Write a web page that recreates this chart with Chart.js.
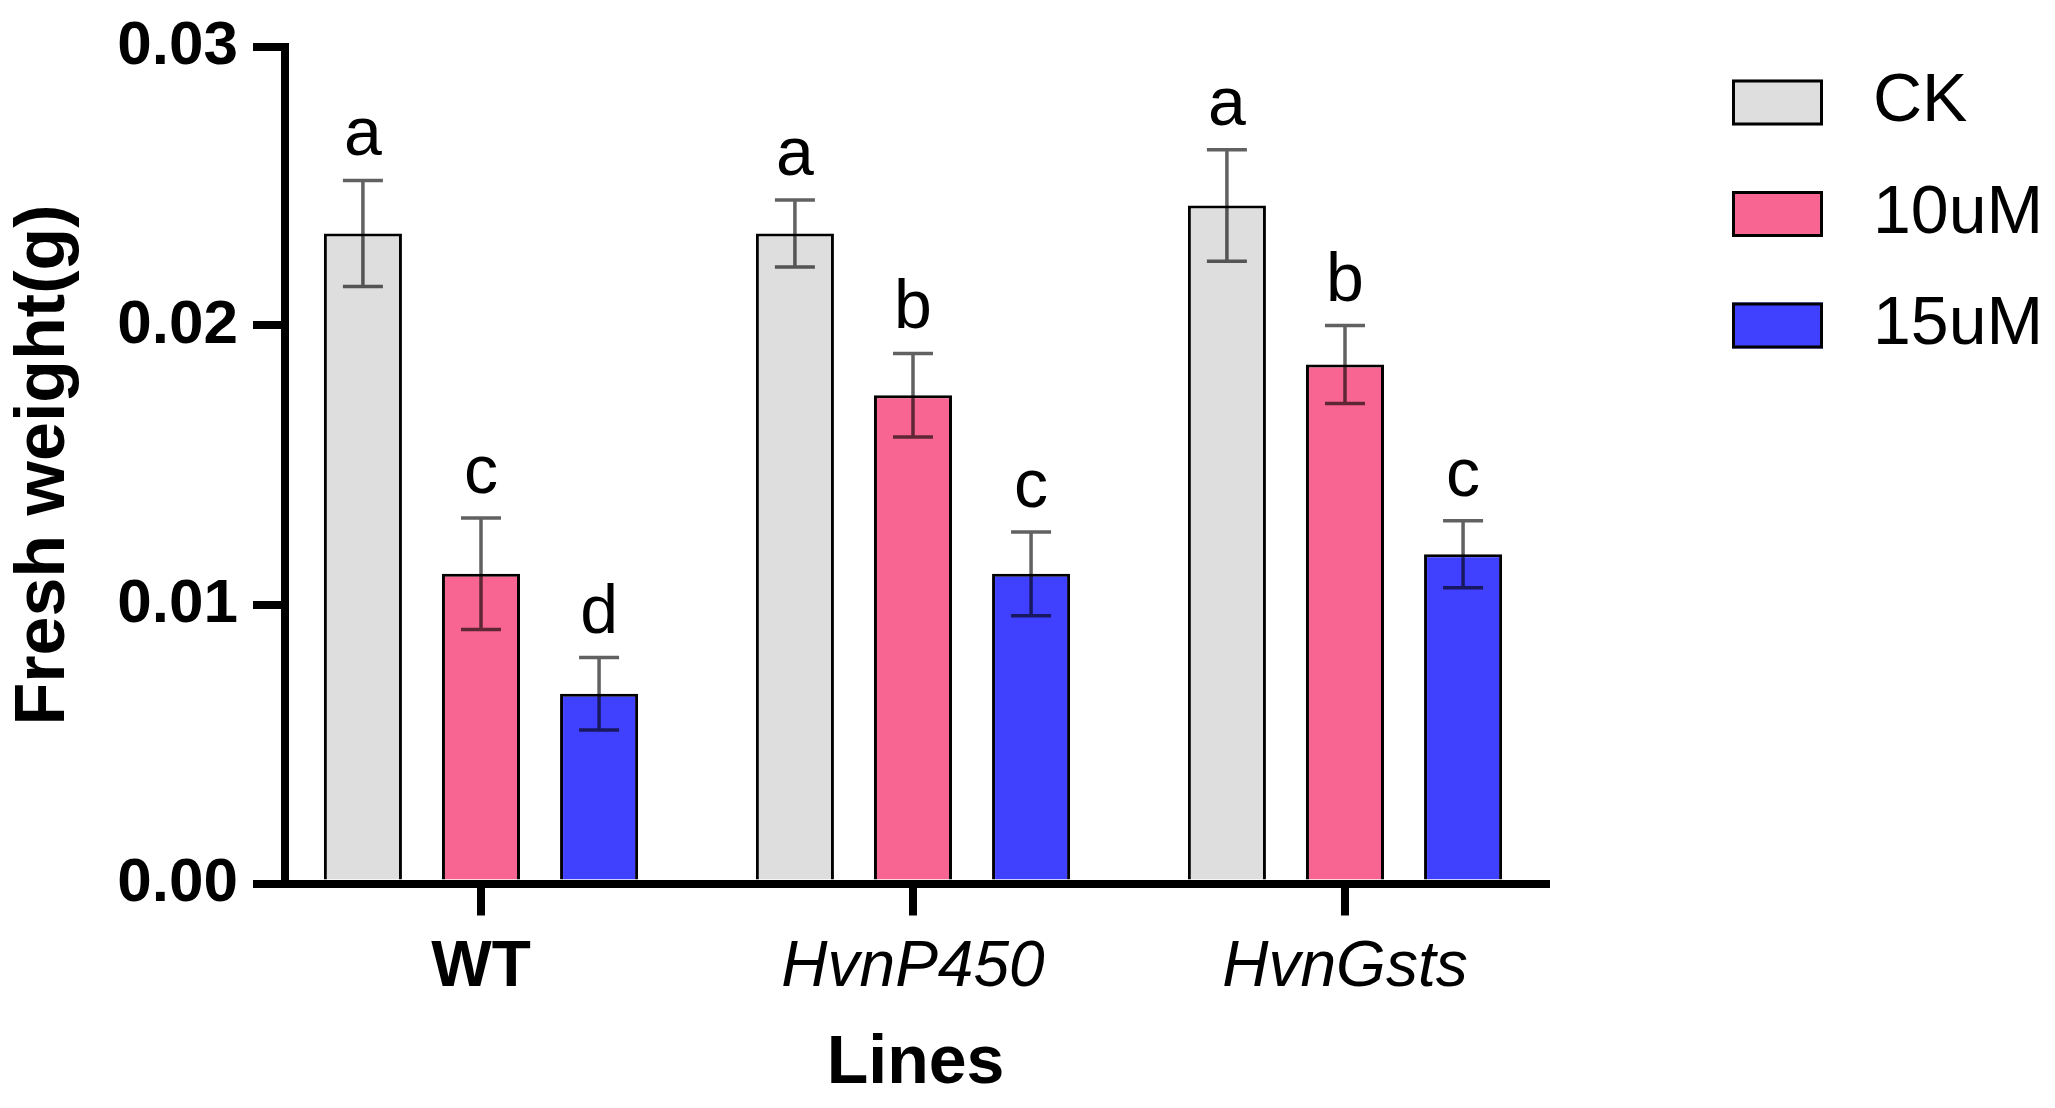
<!DOCTYPE html>
<html>
<head>
<meta charset="utf-8">
<title>Fresh weight</title>
<script src="https://cdn.jsdelivr.net/npm/chart.js@4.4.1/dist/chart.umd.min.js"></script>
<style>
html, body { margin: 0; padding: 0; background: #fff; overflow: hidden; }
#wrap { width: 2055px; height: 1108px; position: relative; }
</style>
</head>
<body>
<div id="wrap"><canvas id="freshChart"></canvas></div>
<script>
// values
var lines = ['WT', 'HvnP450', 'HvnGsts'];
var treatments = ['CK', '10uM', '15uM'];
var ckMean = [0.0233, 0.0233, 0.0243];
var ckSd = [0.0019, 0.0012, 0.0020];
var um10Mean = [0.0111, 0.0175, 0.0186];
var um10Sd = [0.0020, 0.0015, 0.0014];
var um15Mean = [0.0068, 0.0111, 0.0118];
var um15Sd = [0.0013, 0.0015, 0.0012];
var ckLetters = ['a', 'a', 'a'];
var um10Letters = ['c', 'b', 'b'];
var um15Letters = ['d', 'c', 'c'];
var yTicks = [0, 0.01, 0.02, 0.03];

var FONT = "'Liberation Sans', Arial, Helvetica, sans-serif";

function points(vals) {
    return vals.map(function (v, i) { return {x: i, y: v}; });
}

// mean +/- SD whiskers and the letters above them
var errorBars = {
    id: 'errorBars',
    afterDatasetsDraw: function (chart) {
        var ctx = chart.ctx, y = chart.scales.y;
        ctx.save();
        chart.data.datasets.forEach(function (ds, di) {
            var meta = chart.getDatasetMeta(di);
            meta.data.forEach(function (bar, i) {
                var m = ds.data[i].y, s = ds.sd[i];
                var top = y.getPixelForValue(m + s), bot = y.getPixelForValue(m - s);
                ctx.strokeStyle = 'rgba(0,0,0,0.62)';
                ctx.lineWidth = 3.5;
                ctx.beginPath();
                ctx.moveTo(bar.x, top); ctx.lineTo(bar.x, bot);
                ctx.moveTo(bar.x - 20, top); ctx.lineTo(bar.x + 20, top);
                ctx.moveTo(bar.x - 20, bot); ctx.lineTo(bar.x + 20, bot);
                ctx.stroke();
                ctx.fillStyle = '#000';
                ctx.font = '68px ' + FONT;
                ctx.textAlign = 'center';
                ctx.textBaseline = 'alphabetic';
                ctx.fillText(ds.letters[i], bar.x, top - 25);
            });
        });
        ctx.restore();
    }
};

// legend column at the right, like the GraphPad one
var sideLegend = {
    id: 'sideLegend',
    afterDraw: function (chart) {
        var ctx = chart.ctx;
        var left = chart.chartArea.right + 186;
        ctx.save();
        chart.data.datasets.forEach(function (ds, i) {
            var cy = chart.chartArea.top + 56 + i * 111.5;
            ctx.fillStyle = ds.backgroundColor;
            ctx.fillRect(left, cy - 23, 91, 46);
            ctx.lineWidth = 3;
            ctx.strokeStyle = '#000';
            ctx.strokeRect(left + 1.5, cy - 21.5, 88, 43);
            ctx.fillStyle = '#000';
            ctx.font = '68px ' + FONT;
            ctx.textAlign = 'left';
            ctx.textBaseline = 'middle';
            ctx.fillText(ds.label, left + 141, cy);
        });
        ctx.restore();
    }
};

var ctx = document.getElementById('freshChart');
var chart = new Chart(ctx, {
    type: 'bar',
    data: {
        datasets: [
            {label: treatments[0], data: points(ckMean), sd: ckSd, letters: ckLetters, backgroundColor: '#DEDEDE'},
            {label: treatments[1], data: points(um10Mean), sd: um10Sd, letters: um10Letters, backgroundColor: '#F86592'},
            {label: treatments[2], data: points(um15Mean), sd: um15Sd, letters: um15Letters, backgroundColor: '#4040FF'}
        ]
    },
    options: {
        responsive: true,
        maintainAspectRatio: false,
        animation: false,
        devicePixelRatio: 1,
        layout: {padding: {top: 46.5, right: 509, bottom: 0, left: 0}},
        datasets: {
            bar: {
                borderColor: '#000',
                borderWidth: 3,
                categoryPercentage: 0.82,
                barPercentage: 0.661
            }
        },
        plugins: {
            legend: {display: false},
            tooltip: {enabled: false}
        },
        scales: {
            x: {
                type: 'linear',
                min: -0.4537,
                max: 2.4653,
                offset: false,
                afterBuildTicks: function (s) {
                    s.ticks = lines.map(function (c, i) { return {value: i}; });
                },
                afterFit: function (s) {
                    s.height = 224.5;
                    s.paddingLeft = 0;
                    s.paddingRight = 0;
                },
                grid: {
                    offset: false,
                    drawOnChartArea: false,
                    drawTicks: true,
                    tickLength: 32,
                    tickWidth: 8,
                    tickColor: '#000',
                    color: '#000',
                    lineWidth: 8
                },
                border: {display: true, width: 8, color: '#000'},
                ticks: {
                    autoSkip: false,
                    maxRotation: 0,
                    padding: 14,
                    color: '#000',
                    callback: function (v) { return lines[v]; },
                    font: function (c) {
                        return {
                            family: FONT,
                            size: 64,
                            weight: c.index === 0 ? 'bold' : 'normal',
                            style: c.index === 0 ? 'normal' : 'italic'
                        };
                    }
                },
                title: {
                    display: true,
                    text: 'Lines',
                    color: '#000',
                    font: {family: FONT, size: 68, weight: 'bold'},
                    padding: {top: 0, bottom: 3}
                }
            },
            y: {
                min: 0,
                max: 0.03,
                afterBuildTicks: function (s) {
                    s.ticks = yTicks.map(function (v) { return {value: v}; });
                },
                afterFit: function (s) {
                    s.width = 285;
                    s.paddingTop = 0;
                    s.paddingBottom = 0;
                },
                grid: {
                    drawOnChartArea: false,
                    drawTicks: true,
                    tickLength: 32,
                    tickWidth: 8,
                    tickColor: '#000',
                    color: '#000',
                    lineWidth: 8
                },
                border: {display: true, width: 8, color: '#000'},
                ticks: {
                    padding: 15,
                    color: '#000',
                    font: {family: FONT, size: 62, weight: 'bold'},
                    callback: function (v) { return v.toFixed(2); }
                },
                title: {
                    display: true,
                    text: 'Fresh weight(g)',
                    color: '#000',
                    font: {family: FONT, size: 70, weight: 'bold'},
                    padding: {top: 3, bottom: 0}
                }
            }
        }
    },
    plugins: [errorBars, sideLegend]
});
</script>
</body>
</html>
